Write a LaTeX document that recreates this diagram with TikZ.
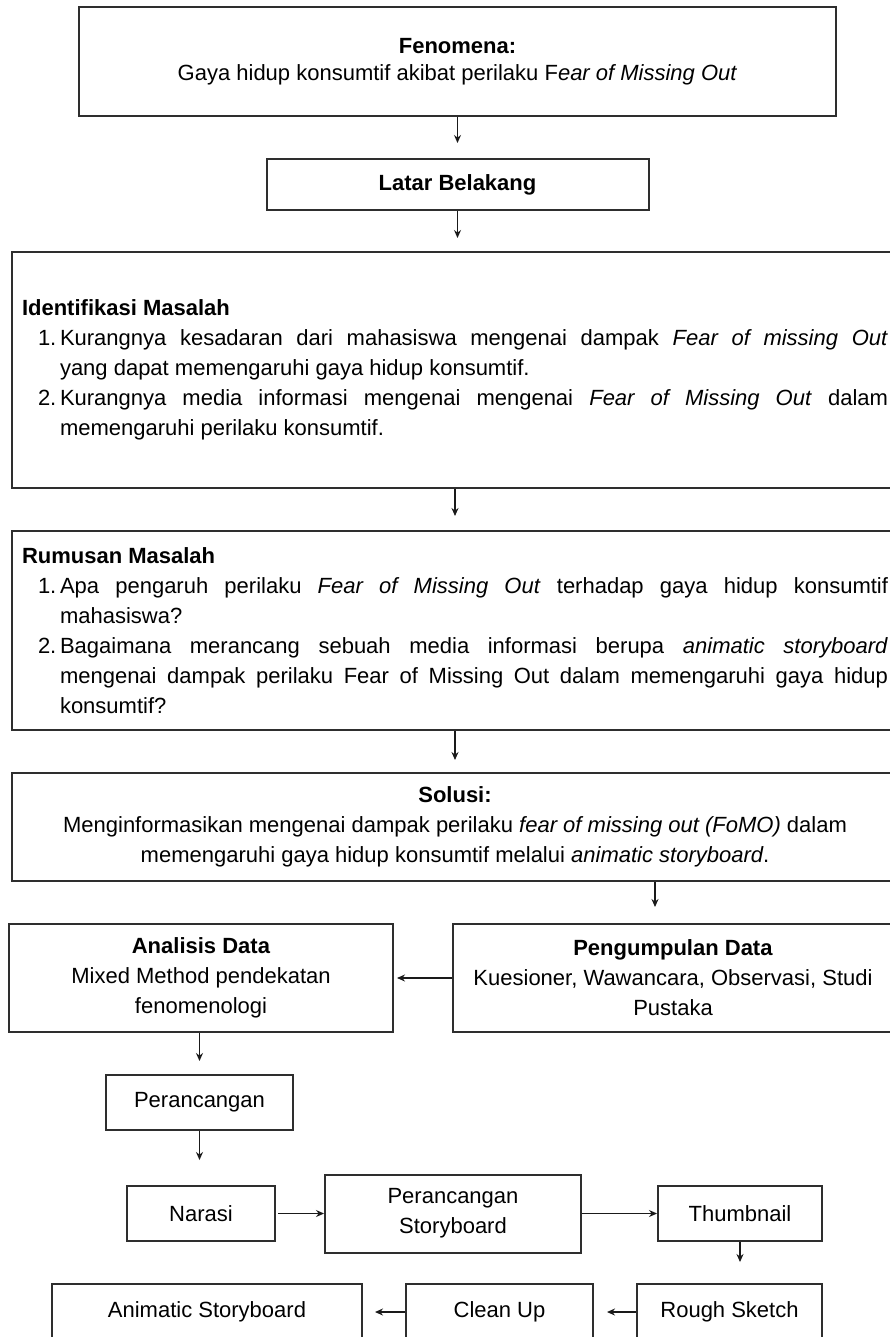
\documentclass[tikz,border=0pt]{standalone}
\usepackage{fontspec}
\setmainfont{Liberation Sans}
\usepackage{xcolor}
\definecolor{cLine}{HTML}{2E2E2E}
\definecolor{cArrow}{HTML}{1A1A1A}
\usetikzlibrary{positioning,arrows.meta}
\tikzset{
  node-box/.style={draw=cLine,line width=2pt,minimum height=55pt,align=center,
    inner sep=0pt,font=\fontsize{22}{30}\selectfont},
  % kotak teks panjang: rata kiri-kanan, daftar bernomor dengan hanging indent
  node-list/.style={node-box,align=justify,inner xsep=10pt,text width=866pt},
  arrow/.style={-{Stealth[length=8pt,width=7pt]},line width=1.2pt,draw=cArrow},
}
\newcommand{\numitem}[2]{\par\hangindent=38pt\hangafter=1\noindent
  \hspace*{16pt}\makebox[22pt][l]{#1}#2\par}

\begin{document}
\begin{tikzpicture}[x=1pt,y=1pt]
  \clip (0,0) rectangle (890,-1337);
  \fill[white] (0,0) rectangle (890,-1337);
  \node[node-box,minimum width=757pt,minimum height=109pt,
    font=\fontsize{22}{27}\selectfont] (fen) at (457.5,-61.5)
    {\textbf{Fenomena:}\\Gaya hidup konsumtif akibat perilaku F\textit{ear of Missing Out}};
  \node[node-box,minimum width=382pt,minimum height=51pt,below=41pt of fen] (latar)
    {\textbf{Latar Belakang}};
  \node[node-list,minimum height=236pt] (ident) at (455,-370) {%
    \textbf{Identifikasi Masalah}
    \numitem{1.}{Kurangnya kesadaran dari mahasiswa mengenai dampak \textit{Fear of missing Out}\linebreak
      yang dapat memengaruhi gaya hidup konsumtif.}
    \numitem{2.}{Kurangnya media informasi mengenai mengenai \textit{Fear of Missing Out} dalam\linebreak
      memengaruhi perilaku konsumtif.}};
  \node[node-list,minimum height=199pt,below=41pt of ident] (rumus) {%
    \textbf{Rumusan Masalah}
    \numitem{1.}{Apa pengaruh perilaku \textit{Fear of Missing Out} terhadap gaya hidup konsumtif\linebreak
      mahasiswa?}
    \numitem{2.}{Bagaimana merancang sebuah media informasi berupa \textit{animatic storyboard}\linebreak
      mengenai dampak perilaku Fear of Missing Out dalam memengaruhi gaya hidup\linebreak
      konsumtif?}};
  \node[node-box,minimum width=886pt,minimum height=108pt,below=41pt of rumus] (solusi)
    {\textbf{Solusi:}\\Menginformasikan mengenai dampak perilaku \textit{fear of missing out (FoMO)} dalam\\
     memengaruhi gaya hidup konsumtif melalui \textit{animatic storyboard}.};
  \node[node-box,minimum width=440pt,minimum height=108pt] (kumpul) at (673,-978)
    {\textbf{Pengumpulan Data}\\Kuesioner, Wawancara, Observasi, Studi\\Pustaka};
  \node[node-box,minimum width=384pt,minimum height=108pt,left=58pt of kumpul] (analisis)
    {\textbf{Analisis Data}\\Mixed Method pendekatan\\fenomenologi};
  \node[node-box,minimum width=187pt,below=41pt of analisis,xshift=-1.5pt] (rancang) {Perancangan};
  \node[node-box,minimum width=148pt,below=54pt of rancang,xshift=1.5pt] (narasi) {Narasi};
  \node[node-box,minimum width=256pt,minimum height=78pt,right=48pt of narasi] (rsb)
    {Perancangan\\Storyboard};
  \node[node-box,minimum width=164pt,right=75pt of rsb] (thumb) {Thumbnail};
  \node[node-box,minimum width=185pt,minimum height=56pt] (rough) at (729.5,-1312) {Rough Sketch};
  \node[node-box,minimum width=187pt,minimum height=56pt,left=42pt of rough] (clean) {Clean Up};
  \node[node-box,minimum width=310pt,minimum height=56pt,left=42pt of clean] (anim)
    {Animatic Storyboard};

  \draw[arrow,shorten >=15pt] (fen) -- (latar);
  \draw[arrow,shorten >=13pt] (latar.south) -- (latar.south |- ident.north);
  \draw[arrow,shorten >=14pt] (ident) -- (rumus);
  \draw[arrow,shorten >=12pt] (rumus) -- (solusi);
  \draw[arrow,shorten >=16pt] ([xshift=-18pt]kumpul.north |- solusi.south) -- ([xshift=-18pt]kumpul.north);
  \draw[arrow,shorten >=3pt] (kumpul) -- (analisis);
  \draw[arrow,shorten >=13pt] (rancang.north |- analisis.south) -- (rancang.north);
  \draw[arrow,shorten >=25pt] (rancang) -- (rancang.south |- narasi.north);
  \draw[arrow,shorten <=2pt] (narasi) -- (rsb);
  \draw[arrow] (rsb) -- (thumb);
  \draw[arrow,shorten >=21pt] (thumb.south) -- (thumb.south |- rough.north);
  \draw[arrow,shorten >=13pt] (rough) -- (clean);
  \draw[arrow,shorten >=12pt] (clean) -- (anim);
\end{tikzpicture}
\end{document}
